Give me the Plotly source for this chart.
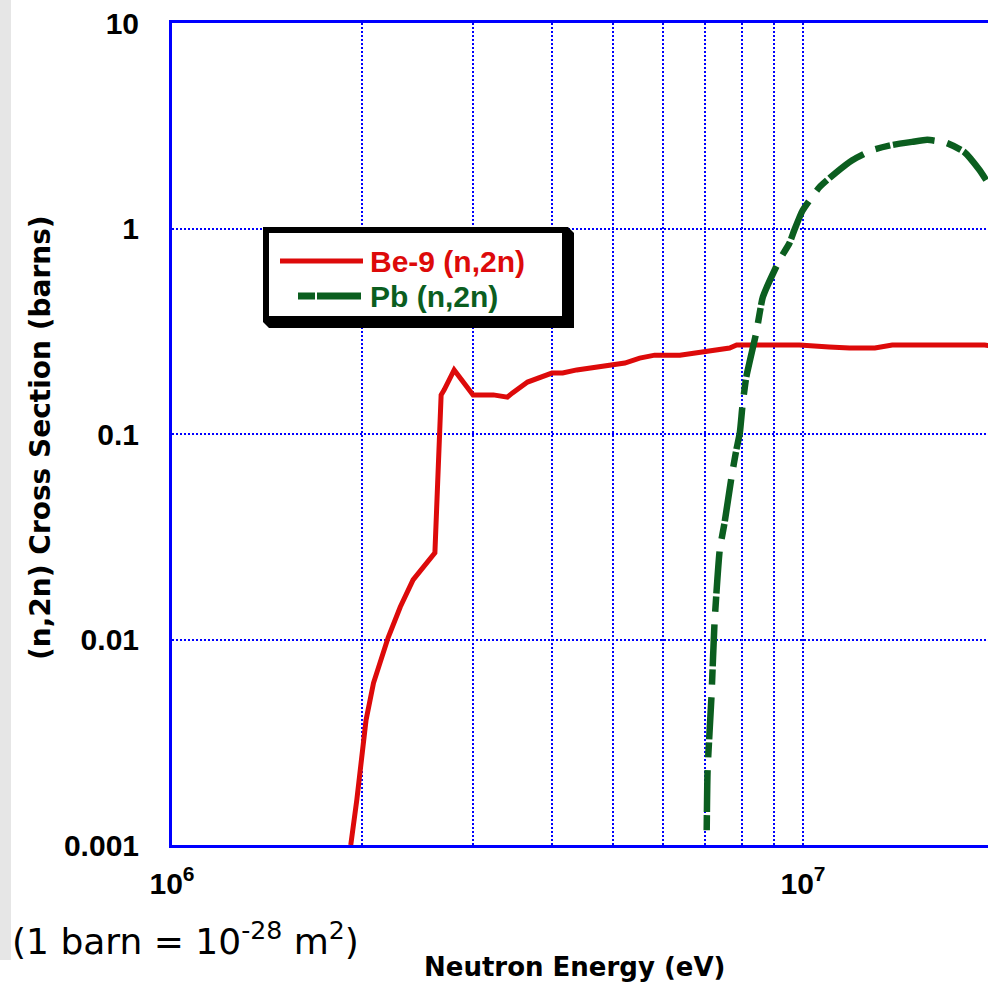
import plotly.graph_objects as go

# ---------------- data ----------------
be9_energy = [1.92e6, 1.963e6, 2.03e6, 2.086e6, 2.20e6, 2.30e6, 2.41e6, 2.50e6, 2.61e6,
              2.67e6, 2.70e6, 2.80e6, 2.88e6, 3.00e6, 3.23e6, 3.40e6, 3.46e6, 3.66e6,
              4.00e6, 4.16e6, 4.38e6, 4.76e6, 5.22e6, 5.51e6, 5.82e6, 6.38e6, 7.65e6,
              7.85e6, 9.87e6, 1.10e7, 1.185e7, 1.30e7, 1.385e7, 1.94e7, 2.0e7]
be9_xs = [0.001, 0.00166, 0.00405, 0.00614, 0.0102, 0.0144, 0.0195, 0.0226, 0.0264,
          0.155, 0.164, 0.205, 0.183, 0.155, 0.155, 0.151, 0.158, 0.179,
          0.198, 0.198, 0.205, 0.214, 0.2215, 0.234, 0.242, 0.242, 0.262,
          0.271, 0.271, 0.265, 0.262, 0.262, 0.271, 0.271, 0.268]

pb_energy = [7.037e6, 7.06e6, 7.16e6, 7.24e6, 7.38e6, 7.51e6, 7.70e6, 7.84e6, 7.94e6,
             8.02e6, 8.13e6, 8.43e6, 8.64e6, 9.18e6, 9.52e6, 9.69e6, 9.98e6, 1.062e7,
             1.13e7, 1.197e7, 1.288e7, 1.385e7, 1.49e7, 1.574e7, 1.687e7, 1.80e7,
             1.903e7, 1.951e7]
pb_xs = [0.00118, 0.00232, 0.00525, 0.0120, 0.0273, 0.0369, 0.0611, 0.0836, 0.101,
         0.138, 0.189, 0.310, 0.465, 0.703, 0.850, 0.983, 1.22, 1.59,
         1.88, 2.15, 2.41, 2.55, 2.64, 2.70, 2.61, 2.36,
         1.93, 1.72]

x_tickvals = [1e6, 1e7]
x_ticktext = ["<b>10<sup>6</sup></b>", "<b>10<sup>7</sup></b>"]
x_minor_vals = [2e6, 3e6, 4e6, 5e6, 6e6, 7e6, 8e6, 9e6, 2e7]
y_tickvals = [0.001, 0.01, 0.1, 1, 10]
y_ticktext = ["<b>0.001</b>", "<b>0.01</b>", "<b>0.1</b>", "<b>1</b>", "<b>10</b>"]

series_names = ["Be-9 (n,2n)", "Pb (n,2n)"]

RED = "#DD0A0A"
GREEN = "#0B5E1F"
BLUE = "#0000FF"

# ---------------- layout geometry ----------------
W, H = 988, 986
L, R, T, B = 172, 988, 23, 845


def px(x):
    return (x - L) / (R - L)


def py(y):
    return (B - y) / (B - T)


fig = go.Figure()
fig.add_trace(go.Scatter(x=be9_energy, y=be9_xs, mode="lines", name=series_names[0],
                         line=dict(color=RED, width=5), showlegend=False))
fig.add_trace(go.Scatter(x=pb_energy, y=pb_xs, mode="lines", name=series_names[1],
                         line=dict(color=GREEN, width=6.5, dash="15px,3px,42px,13px",
                                   shape="spline", smoothing=0.5),
                         showlegend=False))

ARIAL = "Arial"
tickfont_y = dict(family=ARIAL, size=30, color="black")
tickfont_x = dict(family=ARIAL, size=30, color="black")

grid = dict(showgrid=True, gridcolor=BLUE, gridwidth=2, griddash="2px,2px")

fig.update_layout(
    width=W, height=H,
    margin=dict(l=L, r=W - R, t=T, b=H - B, pad=0),
    paper_bgcolor="white", plot_bgcolor="white",
    xaxis=dict(type="log", range=[6, 6 + (R - L) / 631.0],
               tickvals=x_tickvals, ticktext=x_ticktext, tickfont=tickfont_x,
               ticks="", ticklabelstandoff=10,
               minor=dict(tickvals=x_minor_vals, ticks="", **grid),
               showline=True, linecolor=BLUE, linewidth=3, mirror=True,
               zeroline=False, **grid),
    yaxis=dict(type="log", range=[-3, 1],
               tickvals=y_tickvals, ticktext=y_ticktext, tickfont=tickfont_y,
               ticks="", ticklabelstandoff=24,
               showline=True, linecolor=BLUE, linewidth=3, mirror=False,
               zeroline=False, **grid),
)

shapes = []
# grey strip at the far left
shapes.append(dict(type="rect", xref="paper", yref="paper",
                   x0=px(0), x1=px(11), y0=py(960), y1=py(0),
                   fillcolor="#E6E6E6", line=dict(width=0), layer="below"))
# legend shadow
pts = [(568, 227), (574, 233), (574, 328), (269, 328), (263, 322), (263, 227)]
path = "M " + " L ".join(f"{px(a):.5f},{py(b):.5f}" for a, b in pts) + " Z"
shapes.append(dict(type="path", xref="paper", yref="paper", path=path,
                   fillcolor="black", line=dict(width=0), layer="above"))
# legend box
shapes.append(dict(type="rect", xref="paper", yref="paper",
                   x0=px(266), x1=px(565), y0=py(319), y1=py(230),
                   fillcolor="white", line=dict(color="black", width=6), layer="above"))
# legend samples
shapes.append(dict(type="line", xref="paper", yref="paper",
                   x0=px(280), x1=px(363), y0=py(261), y1=py(261),
                   line=dict(color=RED, width=5), layer="above"))
shapes.append(dict(type="line", xref="paper", yref="paper",
                   x0=px(298), x1=px(361), y0=py(296), y1=py(296),
                   line=dict(color=GREEN, width=7, dash="17px,2px,44px,20px"), layer="above"))
fig.update_layout(shapes=shapes)

legfont = dict(family=ARIAL, size=30)
fig.add_annotation(xref="paper", yref="paper", x=px(368), y=py(261), xanchor="left",
                   yanchor="middle", showarrow=False, text="<b>" + series_names[0] + "</b>",
                   font=dict(color=RED, **legfont))
fig.add_annotation(xref="paper", yref="paper", x=px(368), y=py(296), xanchor="left",
                   yanchor="middle", showarrow=False, text="<b>" + series_names[1] + "</b>",
                   font=dict(color=GREEN, **legfont))

# axis titles
fig.add_annotation(xref="paper", yref="paper", x=px(574), y=py(967), xanchor="center",
                   yanchor="middle", showarrow=False, text="<b>Neutron Energy (eV)</b>",
                   font=dict(family="DejaVu Sans", size=26, color="black"))
fig.add_annotation(xref="paper", yref="paper", x=px(40), y=py(438), xanchor="center",
                   yanchor="middle", showarrow=False, textangle=-90,
                   text="<b>(n,2n) Cross Section (barns)</b>",
                   font=dict(family="DejaVu Sans", size=28, color="black"))
# barn note
fig.add_annotation(xref="paper", yref="paper", x=px(10), y=py(939), xanchor="left",
                   yanchor="middle", showarrow=False,
                   text="(1 barn = 10<sup>-28</sup> m<sup>2</sup>)",
                   font=dict(family="DejaVu Sans", size=36, color="black"))

fig.write_html("out.html")
